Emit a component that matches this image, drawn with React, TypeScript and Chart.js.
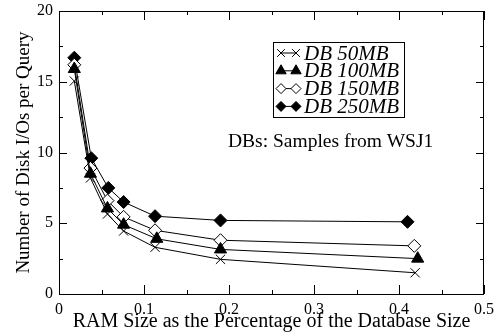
import React, { useEffect, useRef } from "react";
import { Chart, registerables } from "chart.js";
import { drawPoint } from "chart.js/helpers";

Chart.register(...registerables);

const seriesLabels = ["DB 50MB", "DB 100MB", "DB 150MB", "DB 250MB"];
const x50 = [0.018, 0.037, 0.057, 0.076, 0.113, 0.19, 0.419];
const y50 = [15.05, 8.2, 5.65, 4.45, 3.3, 2.45, 1.5];
const x100 = [0.018, 0.037, 0.057, 0.076, 0.115, 0.19, 0.422];
const y100 = [15.9, 8.5, 6.05, 4.9, 3.9, 3.15, 2.5];
const x150 = [0.018, 0.037, 0.057, 0.076, 0.113, 0.19, 0.418];
const y150 = [16.2, 8.9, 6.6, 5.45, 4.5, 3.8, 3.4];
const x250 = [0.018, 0.038, 0.058, 0.076, 0.113, 0.19, 0.41];
const y250 = [16.7, 9.6, 7.5, 6.5, 5.5, 5.2, 5.1];
const xTitle = "RAM Size as the Percentage of the Database Size";
const yTitle = "Number of Disk I/Os per Query";
const note = "DBs: Samples from WSJ1";

const SERIF = "'Liberation Serif', 'Times New Roman', serif";

const toPts = (xs: number[], ys: number[]) => xs.map((x, i) => ({ x, y: ys[i] }));

const styles = [
  { pointStyle: "crossRot", radius: 6.5, legendRadius: 5.5, bg: "#000" },
  { pointStyle: "triangle", radius: 7, legendRadius: 6, bg: "#000" },
  { pointStyle: "rectRot", radius: 6.5, legendRadius: 5, bg: "#fff" },
  { pointStyle: "rectRot", radius: 6.5, legendRadius: 5, bg: "#000" },
];

const framePlugin = {
  id: "frame",
  afterDatasetsDraw(chart: any) {
    const { ctx, chartArea: a, scales } = chart;
    ctx.save();
    ctx.strokeStyle = "#000";
    ctx.lineWidth = 1;
    ctx.strokeRect(a.left + 0.5, a.top + 0.5, a.right - a.left - 1, a.bottom - a.top);
    ctx.beginPath();
    for (let i = 0; i <= 10; i++) {
      const v = i * 0.05;
      const px = Math.round(scales.x.getPixelForValue(v)) + 0.5;
      const len = i % 2 === 0 ? 9 : 4;
      ctx.moveTo(px, a.bottom);
      ctx.lineTo(px, a.bottom - len);
      ctx.moveTo(px, a.top);
      ctx.lineTo(px, a.top + len);
    }
    for (let i = 0; i <= 8; i++) {
      const v = i * 2.5;
      const py = Math.round(scales.y.getPixelForValue(v)) + 0.5;
      const len = i % 2 === 0 ? 8 : 4;
      ctx.moveTo(a.left, py);
      ctx.lineTo(a.left + len, py);
      ctx.moveTo(a.right, py);
      ctx.lineTo(a.right - len, py);
    }
    ctx.stroke();

    // note text
    ctx.fillStyle = "#000";
    ctx.font = `19.5px ${SERIF}`;
    ctx.textAlign = "left";
    ctx.textBaseline = "middle";
    ctx.fillText(note, 228, 142);

    // legend box
    const bx = 273, by = 42, bw = 131, bh = 75;
    ctx.fillStyle = "#fff";
    ctx.fillRect(bx, by, bw, bh);
    ctx.strokeRect(bx + 0.5, by + 0.5, bw, bh);
    chart.data.datasets.forEach((ds: any, i: number) => {
      const yy = 53 + i * 17.8;
      const s = styles[i];
      ctx.beginPath();
      ctx.moveTo(281, yy);
      ctx.lineTo(296, yy);
      ctx.strokeStyle = "#000";
      ctx.lineWidth = 1;
      ctx.stroke();
      for (const mx of [281, 296]) {
        ctx.fillStyle = s.bg;
        ctx.strokeStyle = "#000";
        drawPoint(ctx, { pointStyle: s.pointStyle as any, radius: s.legendRadius, borderWidth: 1, rotation: 0 }, mx, yy);
      }
      ctx.fillStyle = "#000";
      ctx.font = `italic 21px ${SERIF}`;
      ctx.textAlign = "left";
      ctx.textBaseline = "middle";
      ctx.fillText(ds.label, 304, yy + 1);
    });
    ctx.restore();
  },
};

export default function App() {
  const ref = useRef<HTMLCanvasElement>(null);
  useEffect(() => {
    if (!ref.current) return;
    const data = [toPts(x50, y50), toPts(x100, y100), toPts(x150, y150), toPts(x250, y250)];
    const chart = new Chart(ref.current, {
      type: "scatter",
      data: {
        datasets: data.map((d, i) => ({
          label: seriesLabels[i],
          data: d,
          showLine: true,
          borderColor: "#000",
          borderWidth: 1,
          pointStyle: styles[i].pointStyle as any,
          pointRadius: styles[i].radius,
          pointBackgroundColor: styles[i].bg,
          pointBorderColor: "#000",
          pointBorderWidth: 1,
        })),
      },
      options: {
        animation: false,
        responsive: false,
        events: [],
        layout: { padding: { top: 11, right: 15, left: 0, bottom: 0 } },
        plugins: { legend: { display: false }, tooltip: { enabled: false } },
        scales: {
          x: {
            type: "linear",
            min: 0,
            max: 0.5,
            ticks: { stepSize: 0.1, color: "#000", font: { family: SERIF, size: 16 }, padding: 6, maxRotation: 0 },
            grid: { display: false, drawTicks: false },
            border: { display: false },
            title: { display: true, text: xTitle, color: "#000", font: { family: SERIF, size: 20 }, padding: { top: 0, bottom: 2 } },
            afterFit: (s: any) => { s.height = 42; s.paddingLeft = 0; s.paddingRight = 0; },
          },
          y: {
            min: 0,
            max: 20,
            ticks: { stepSize: 5, color: "#000", font: { family: SERIF, size: 16 }, padding: 6 },
            grid: { display: false, drawTicks: false },
            border: { display: false },
            title: { display: true, text: yTitle, color: "#000", font: { family: SERIF, size: 19 }, padding: { top: 13, bottom: 0 } },
            afterFit: (s: any) => { s.width = 59; s.paddingTop = 0; s.paddingBottom = 0; },
          },
        },
      },
      plugins: [framePlugin],
    });
    return () => chart.destroy();
  }, []);
  return (
    <div style={{ position: "absolute", left: 0, top: 0, width: 499, height: 336, background: "#fff" }}>
      <canvas ref={ref} width={499} height={336} />
    </div>
  );
}
